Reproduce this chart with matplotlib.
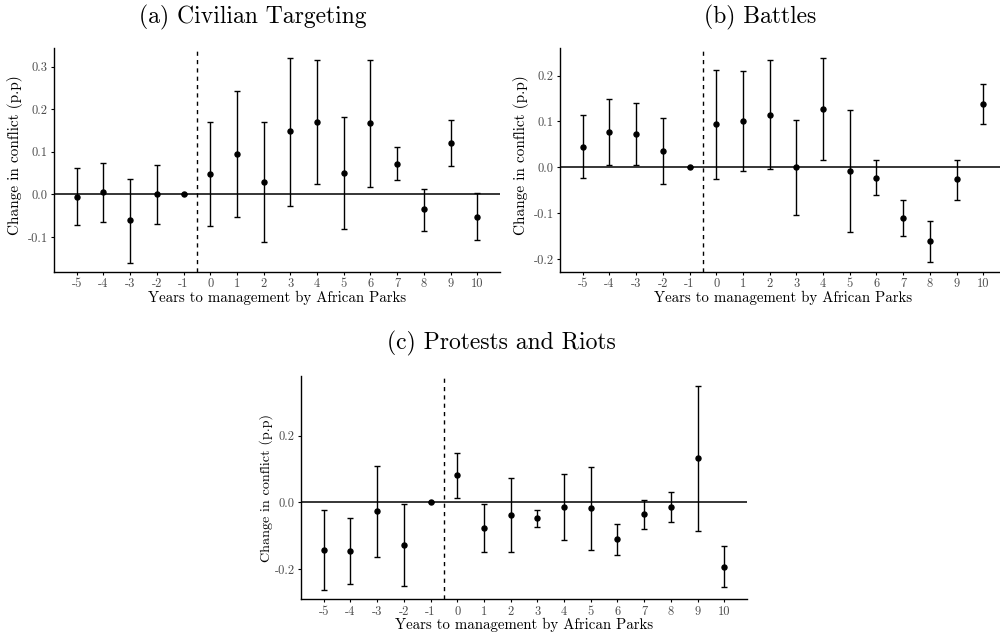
import numpy as np
import matplotlib
matplotlib.use("Agg")
import matplotlib.pyplot as plt

plt.rcParams['font.family'] = 'cmr10'
plt.rcParams['mathtext.fontset'] = 'cm'
plt.rcParams['axes.unicode_minus'] = False
plt.rcParams['axes.formatter.use_mathtext'] = True

years = np.arange(-5, 11)
year_labels = [str(y) for y in years]

# (a) Civilian Targeting
civ_est = [-0.005, 0.005, -0.061, 0.0, 0.0, 0.048, 0.094, 0.030, 0.148, 0.170, 0.051, 0.167, 0.072, -0.035, 0.120, -0.052]
civ_lo = [-0.072, -0.064, -0.160, -0.070, 0.0, -0.075, -0.053, -0.112, -0.026, 0.024, -0.080, 0.017, 0.033, -0.085, 0.067, -0.106]
civ_hi = [0.063, 0.073, 0.036, 0.070, 0.0, 0.170, 0.243, 0.170, 0.321, 0.317, 0.183, 0.317, 0.112, 0.013, 0.174, 0.004]

# (b) Battles
bat_est = [0.044, 0.076, 0.073, 0.036, 0.0, 0.094, 0.100, 0.114, 0.0, 0.127, -0.008, -0.023, -0.110, -0.161, -0.026, 0.138]
bat_lo = [-0.024, 0.006, 0.006, -0.037, 0.0, -0.025, -0.008, -0.004, -0.103, 0.015, -0.140, -0.060, -0.149, -0.207, -0.071, 0.094]
bat_hi = [0.113, 0.148, 0.141, 0.108, 0.0, 0.213, 0.209, 0.233, 0.103, 0.239, 0.125, 0.015, -0.071, -0.116, 0.017, 0.181]

# (c) Protests and Riots
pro_est = [-0.142, -0.147, -0.026, -0.129, 0.0, 0.081, -0.077, -0.038, -0.048, -0.013, -0.018, -0.111, -0.036, -0.015, 0.132, -0.193]
pro_lo = [-0.262, -0.246, -0.164, -0.250, 0.0, 0.014, -0.149, -0.148, -0.074, -0.113, -0.142, -0.157, -0.079, -0.060, -0.087, -0.255]
pro_hi = [-0.022, -0.047, 0.110, -0.006, 0.0, 0.147, -0.004, 0.073, -0.022, 0.086, 0.106, -0.066, 0.007, 0.030, 0.350, -0.130]

fig = plt.figure(figsize=(10, 6.38), dpi=100)


def panel(rect, est, lo, hi, yticks, ylim, ylab_size, ylab_xy):
    ax = fig.add_axes(rect)
    est = np.array(est)
    err = [est - np.array(lo), np.array(hi) - est]
    ax.axhline(0, color='black', lw=1.1, zorder=1)
    ax.axvline(-0.5, color='black', lw=1.0, ls=(0, (3, 3)), zorder=1)
    ax.errorbar(years, est, yerr=err, fmt='o', color='black', ms=3.6,
                elinewidth=1.0, capsize=2.0, capthick=1.0, zorder=3)
    ax.set_xlim(-5.85, 10.85)
    ax.set_ylim(*ylim)
    ax.set_xticks(years)
    ax.set_xticklabels(year_labels)
    ax.set_yticks(yticks)
    ax.set_yticklabels(['%.1f' % t for t in yticks])
    for s in ['top', 'right']:
        ax.spines[s].set_visible(False)
    for s in ['left', 'bottom']:
        ax.spines[s].set_linewidth(1.0)
    ax.tick_params(length=2.5, width=0.8, labelsize=9, labelcolor='#4d4d4d', pad=2)
    ax.set_xlabel('Years to management by African Parks', fontsize=10.7, labelpad=0)
    ax.set_ylabel('Change in conflict (p.p)', fontsize=ylab_size)
    ax.yaxis.set_label_coords(*ylab_xy)
    return ax


panel([0.054, 0.5737, 0.446, 0.351], civ_est, civ_lo, civ_hi,
      [-0.1, 0.0, 0.1, 0.2, 0.3], (-0.182, 0.344), 11, (-0.07, 0.52))
panel([0.560, 0.5737, 0.446, 0.351], bat_est, bat_lo, bat_hi,
      [-0.2, -0.1, 0.0, 0.1, 0.2], (-0.228, 0.260), 11, (-0.07, 0.52))
panel([0.301, 0.0607, 0.446, 0.350], pro_est, pro_lo, pro_hi,
      [-0.2, 0.0, 0.2], (-0.291, 0.379), 10.2, (-0.063, 0.5))

fig.text(0.253, 0.973, '(a) Civilian Targeting', fontsize=17, ha='center', va='center')
fig.text(0.760, 0.973, '(b) Battles', fontsize=17, ha='center', va='center')
fig.text(0.501, 0.461, '(c) Protests and Riots', fontsize=17, ha='center', va='center')

fig.savefig('out.png', dpi=100)
